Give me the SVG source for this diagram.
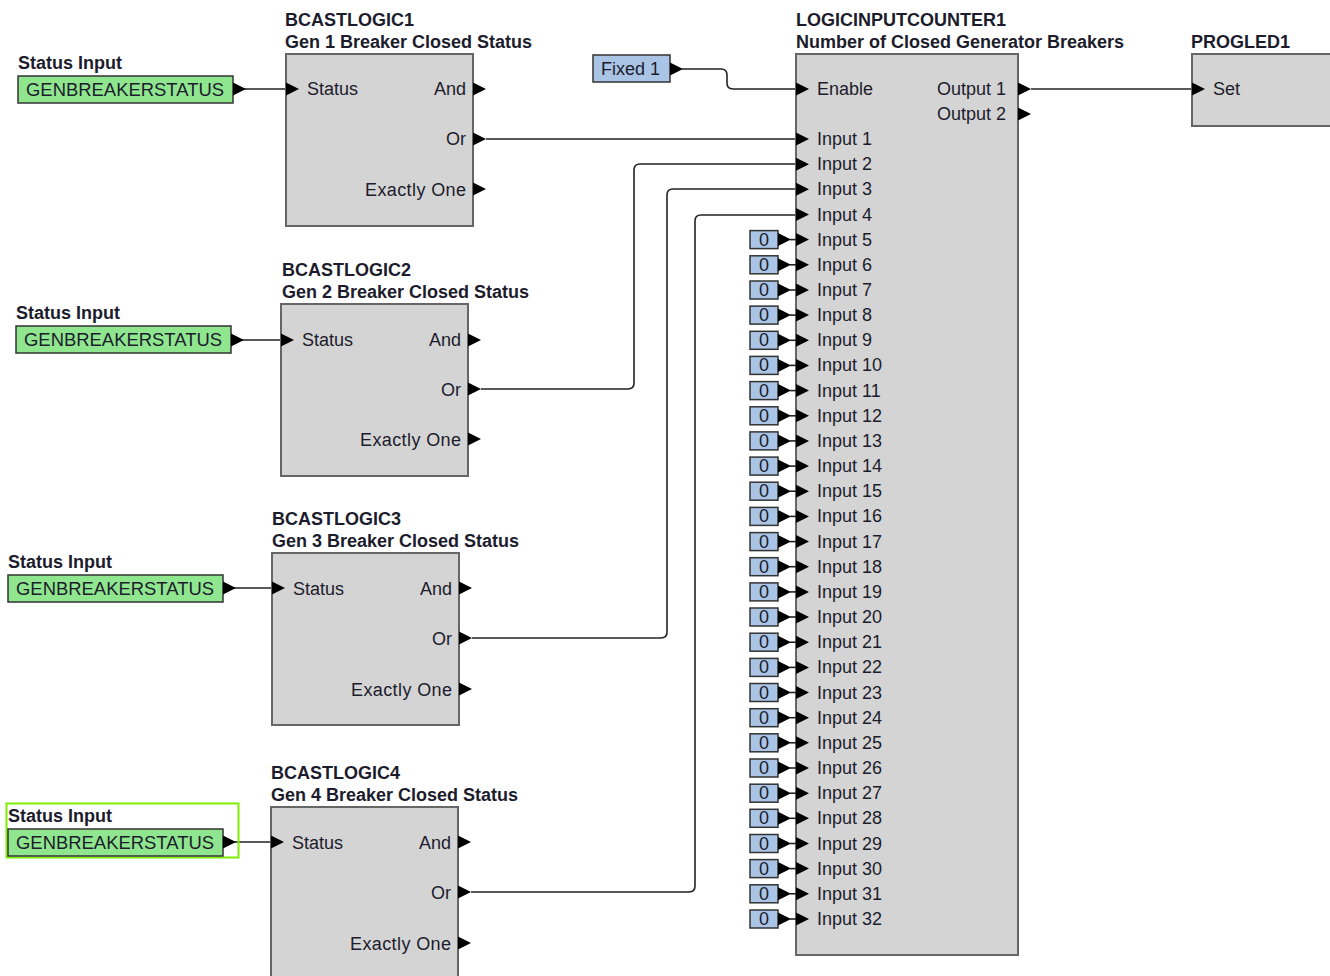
<svg xmlns="http://www.w3.org/2000/svg" xmlns:xlink="http://www.w3.org/1999/xlink" width="1330" height="976" viewBox="0 0 1330 976">
<style>
text{font-family:"Liberation Sans",Arial,sans-serif;fill:#1c1c2c}
.t{font-size:18px;font-weight:bold}
.p{font-size:18px}
.e{text-anchor:end}
.blk{fill:#d4d4d4;stroke:#666;stroke-width:2}
.grn{fill:#8fe68f;stroke:#333;stroke-width:1.5}
.cst{fill:#a9c4e4;stroke:#333;stroke-width:1.5}
.w{fill:none;stroke:#222;stroke-width:1.6}
.c{font-size:18px;text-anchor:middle}
</style>
<defs>
<polygon id="pin" points="0,-6.5 13,0 0,6.5" fill="#000"/>
<g id="zero">
<rect class="cst" x="-46" y="-9" width="28" height="18"/>
<text class="c" x="-32" y="6">0</text>
<use xlink:href="#pin" x="-18"/>
<line x1="-6" y1="0" x2="0" y2="0" stroke="#222" stroke-width="1.6"/>
<use xlink:href="#pin" x="0"/>
</g>
</defs>

<g id="connectors">
<line class="w" x1="243" y1="89" x2="286" y2="89"/>
<line class="w" x1="241" y1="340" x2="281" y2="340"/>
<line class="w" x1="233" y1="588" x2="272" y2="588"/>
<line class="w" x1="233" y1="842" x2="271" y2="842"/>
<path class="w" d="M486,139 H796"/>
<path class="w" d="M481,389 H628 Q634,389 634,383 V170 Q634,164 640,164 H796"/>
<path class="w" d="M472,638 H661 Q667,638 667,632 V195 Q667,189 673,189 H796"/>
<path class="w" d="M471,892 H689 Q695,892 695,886 V221 Q695,215 701,215 H796"/>
<path class="w" d="M682,69 H721 Q727,69 727,75 V83 Q727,89 733,89 H796"/>
<path class="w" d="M1031,89 H1192"/>
</g>

<g id="statusinput1">
<text class="t" x="18" y="69">Status Input</text>
<rect class="grn" x="18" y="76" width="215" height="27"/>
<text class="p" x="26" y="96" textLength="198" lengthAdjust="spacingAndGlyphs">GENBREAKERSTATUS</text>
<use xlink:href="#pin" x="233" y="89"/>
</g>
<g id="statusinput2">
<text class="t" x="16" y="319">Status Input</text>
<rect class="grn" x="16" y="326" width="215" height="27"/>
<text class="p" x="24" y="346" textLength="198" lengthAdjust="spacingAndGlyphs">GENBREAKERSTATUS</text>
<use xlink:href="#pin" x="231" y="340"/>
</g>
<g id="statusinput3">
<text class="t" x="8" y="568">Status Input</text>
<rect class="grn" x="8" y="575" width="215" height="27"/>
<text class="p" x="16" y="595" textLength="198" lengthAdjust="spacingAndGlyphs">GENBREAKERSTATUS</text>
<use xlink:href="#pin" x="223" y="588"/>
</g>
<g id="statusinput4">
<rect x="6.5" y="803.5" width="232" height="54" fill="none" stroke="#7cf000" stroke-width="2"/>
<text class="t" x="8" y="822">Status Input</text>
<rect class="grn" x="8" y="829" width="215" height="27"/>
<text class="p" x="16" y="849" textLength="198" lengthAdjust="spacingAndGlyphs">GENBREAKERSTATUS</text>
<use xlink:href="#pin" x="223" y="842"/>
</g>

<g id="bcastlogic1">
<text class="t" x="285" y="26">BCASTLOGIC1</text>
<text class="t" x="285" y="48">Gen 1 Breaker Closed Status</text>
<rect class="blk" x="286" y="54" width="187" height="172"/>
<use xlink:href="#pin" x="286" y="89"/>
<text class="p" x="307" y="95">Status</text>
<text class="p e" x="466" y="95">And</text>
<text class="p e" x="466" y="145">Or</text>
<text class="p e" x="466" y="196" textLength="101">Exactly One</text>
<use xlink:href="#pin" x="473" y="89"/>
<use xlink:href="#pin" x="473" y="139"/>
<use xlink:href="#pin" x="473" y="189"/>
</g>
<g id="bcastlogic2">
<text class="t" x="282" y="276">BCASTLOGIC2</text>
<text class="t" x="282" y="298">Gen 2 Breaker Closed Status</text>
<rect class="blk" x="281" y="304" width="187" height="172"/>
<use xlink:href="#pin" x="281" y="340"/>
<text class="p" x="302" y="346">Status</text>
<text class="p e" x="461" y="346">And</text>
<text class="p e" x="461" y="396">Or</text>
<text class="p e" x="461" y="446" textLength="101">Exactly One</text>
<use xlink:href="#pin" x="468" y="340"/>
<use xlink:href="#pin" x="468" y="389"/>
<use xlink:href="#pin" x="468" y="439"/>
</g>
<g id="bcastlogic3">
<text class="t" x="272" y="525">BCASTLOGIC3</text>
<text class="t" x="272" y="547">Gen 3 Breaker Closed Status</text>
<rect class="blk" x="272" y="553" width="187" height="172"/>
<use xlink:href="#pin" x="272" y="588"/>
<text class="p" x="293" y="595">Status</text>
<text class="p e" x="452" y="595">And</text>
<text class="p e" x="452" y="645">Or</text>
<text class="p e" x="452" y="696" textLength="101">Exactly One</text>
<use xlink:href="#pin" x="459" y="588"/>
<use xlink:href="#pin" x="459" y="638"/>
<use xlink:href="#pin" x="459" y="689"/>
</g>
<g id="bcastlogic4">
<text class="t" x="271" y="779">BCASTLOGIC4</text>
<text class="t" x="271" y="801">Gen 4 Breaker Closed Status</text>
<rect class="blk" x="271" y="807" width="187" height="180"/>
<use xlink:href="#pin" x="271" y="842"/>
<text class="p" x="292" y="849">Status</text>
<text class="p e" x="451" y="849">And</text>
<text class="p e" x="451" y="899">Or</text>
<text class="p e" x="451" y="950" textLength="101">Exactly One</text>
<use xlink:href="#pin" x="458" y="842"/>
<use xlink:href="#pin" x="458" y="892"/>
<use xlink:href="#pin" x="458" y="943"/>
</g>

<g id="fixed1">
<rect class="cst" x="593" y="55" width="77" height="27"/>
<text class="p" x="601" y="75">Fixed 1</text>
<use xlink:href="#pin" x="670" y="69"/>
</g>

<g id="logicinputcounter1">
<text class="t" x="796" y="26">LOGICINPUTCOUNTER1</text>
<text class="t" x="796" y="48">Number of Closed Generator Breakers</text>
<rect class="blk" x="796" y="54" width="222" height="901"/>
<use xlink:href="#pin" x="796" y="89"/>
<text class="p" x="817" y="95">Enable</text>
<text class="p e" x="1006" y="95">Output 1</text>
<text class="p e" x="1006" y="120">Output 2</text>
<use xlink:href="#pin" x="1018" y="89"/>
<use xlink:href="#pin" x="1018" y="114"/>
<use xlink:href="#pin" x="796" y="139"/>
<use xlink:href="#pin" x="796" y="164.2"/>
<use xlink:href="#pin" x="796" y="189.3"/>
<use xlink:href="#pin" x="796" y="214.5"/>
<text class="p" x="817" y="145">Input 1</text>
<text class="p" x="817" y="170.2">Input 2</text>
<text class="p" x="817" y="195.3">Input 3</text>
<text class="p" x="817" y="220.5">Input 4</text>
<text class="p" x="817" y="245.6">Input 5</text>
<text class="p" x="817" y="270.8">Input 6</text>
<text class="p" x="817" y="296">Input 7</text>
<text class="p" x="817" y="321.1">Input 8</text>
<text class="p" x="817" y="346.3">Input 9</text>
<text class="p" x="817" y="371.4">Input 10</text>
<text class="p" x="817" y="396.6">Input 11</text>
<text class="p" x="817" y="421.8">Input 12</text>
<text class="p" x="817" y="446.9">Input 13</text>
<text class="p" x="817" y="472.1">Input 14</text>
<text class="p" x="817" y="497.2">Input 15</text>
<text class="p" x="817" y="522.4">Input 16</text>
<text class="p" x="817" y="547.6">Input 17</text>
<text class="p" x="817" y="572.7">Input 18</text>
<text class="p" x="817" y="597.9">Input 19</text>
<text class="p" x="817" y="623">Input 20</text>
<text class="p" x="817" y="648.2">Input 21</text>
<text class="p" x="817" y="673.4">Input 22</text>
<text class="p" x="817" y="698.5">Input 23</text>
<text class="p" x="817" y="723.7">Input 24</text>
<text class="p" x="817" y="748.8">Input 25</text>
<text class="p" x="817" y="774">Input 26</text>
<text class="p" x="817" y="799.2">Input 27</text>
<text class="p" x="817" y="824.3">Input 28</text>
<text class="p" x="817" y="849.5">Input 29</text>
<text class="p" x="817" y="874.6">Input 30</text>
<text class="p" x="817" y="899.8">Input 31</text>
<text class="p" x="817" y="925">Input 32</text>
</g>

<g id="constants">
<use xlink:href="#zero" x="796" y="239.6"/>
<use xlink:href="#zero" x="796" y="264.8"/>
<use xlink:href="#zero" x="796" y="290"/>
<use xlink:href="#zero" x="796" y="315.1"/>
<use xlink:href="#zero" x="796" y="340.3"/>
<use xlink:href="#zero" x="796" y="365.4"/>
<use xlink:href="#zero" x="796" y="390.6"/>
<use xlink:href="#zero" x="796" y="415.8"/>
<use xlink:href="#zero" x="796" y="440.9"/>
<use xlink:href="#zero" x="796" y="466.1"/>
<use xlink:href="#zero" x="796" y="491.2"/>
<use xlink:href="#zero" x="796" y="516.4"/>
<use xlink:href="#zero" x="796" y="541.6"/>
<use xlink:href="#zero" x="796" y="566.7"/>
<use xlink:href="#zero" x="796" y="591.9"/>
<use xlink:href="#zero" x="796" y="617"/>
<use xlink:href="#zero" x="796" y="642.2"/>
<use xlink:href="#zero" x="796" y="667.4"/>
<use xlink:href="#zero" x="796" y="692.5"/>
<use xlink:href="#zero" x="796" y="717.7"/>
<use xlink:href="#zero" x="796" y="742.8"/>
<use xlink:href="#zero" x="796" y="768"/>
<use xlink:href="#zero" x="796" y="793.2"/>
<use xlink:href="#zero" x="796" y="818.3"/>
<use xlink:href="#zero" x="796" y="843.5"/>
<use xlink:href="#zero" x="796" y="868.6"/>
<use xlink:href="#zero" x="796" y="893.8"/>
<use xlink:href="#zero" x="796" y="919"/>
</g>

<g id="progled1">
<text class="t" x="1191" y="48">PROGLED1</text>
<rect class="blk" x="1192" y="54" width="145" height="72"/>
<use xlink:href="#pin" x="1192" y="89"/>
<text class="p" x="1213" y="95">Set</text>
</g>
</svg>
